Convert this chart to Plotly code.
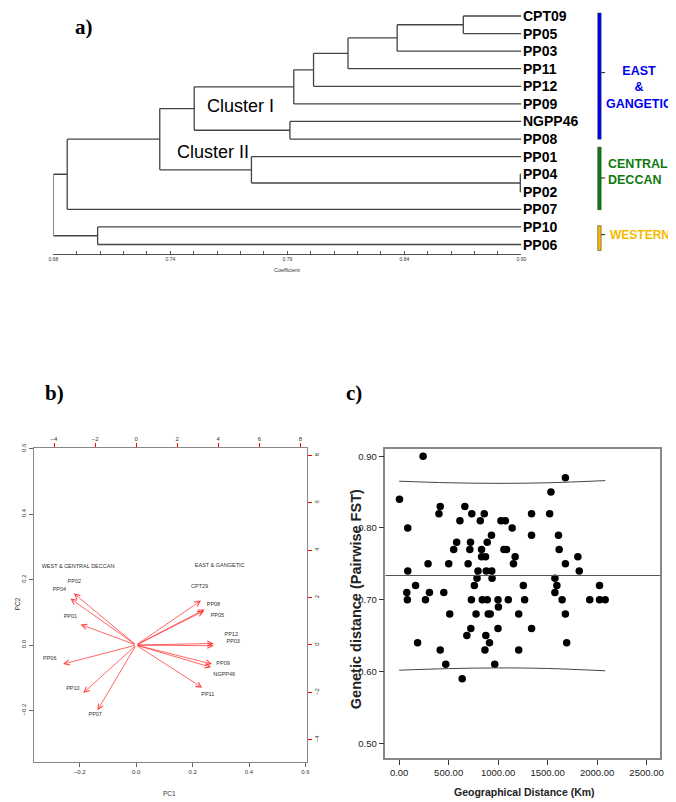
import plotly.graph_objects as go

W, H = 676, 802
OFF = 8  # page body margin of the host page
SANS = "Liberation Sans, Arial, sans-serif"
SERIF = "Liberation Serif, Times New Roman, serif"

# ---------------- Panel a: UPGMA dendrogram ----------------
leaf_labels = ["CPT09", "PP05", "PP03", "PP11", "PP12", "PP09", "NGPP46",
               "PP08", "PP01", "PP04", "PP02", "PP07", "PP10", "PP06"]
leaf_coef = 0.90
merge_left = [0, "m0", "m1", "m2", "m3", 6, "m4", 9, 8, "m6", "m9", 12, "m10"]
merge_right = [1, 2, 3, 4, 5, 7, "m5", 10, "m7", "m8", 11, 13, "m11"]
merge_coef = [0.8727, 0.8416, 0.8185, 0.8023, 0.7930, 0.7912, 0.7462,
              0.8995, 0.7731, 0.7300, 0.6865, 0.7008, 0.6800]
coef_tick_labels = ["0.68", "", "", "", "", "0.74", "", "", "", "", "0.79",
                    "", "", "", "", "0.84", "", "", "", "", "0.90"]
cluster_names = ["Cluster I", "Cluster II"]
group_names = ["EAST<br>&<br>GANGETIC", "CENTRAL<br>DECCAN", "WESTERN"]
group_colors = ["#0000F0", "#0F7A0F", "#F5BA00"]

# ---------------- Panel b: PCA biplot ----------------
pc_names = ["PP02", "PP04", "PP01", "PP06", "PP10", "PP07", "CPT29", "PP08",
            "PP05", "PP12", "PP03", "PP09", "NGPP46", "PP11"]
pc1 = [-0.221, -0.233, -0.197, -0.259, -0.187, -0.137, 0.230, 0.243,
       0.240, 0.275, 0.275, 0.269, 0.266, 0.234]
pc2 = [0.158, 0.142, 0.063, -0.058, -0.146, -0.199, 0.136, 0.109,
       0.104, 0.005, -0.002, -0.058, -0.068, -0.130]
pc_label_x = [-0.219, -0.272, -0.233, -0.306, -0.224, -0.145, 0.225, 0.274,
              0.288, 0.337, 0.344, 0.308, 0.312, 0.254]
pc_label_y = [0.195, 0.169, 0.088, -0.040, -0.134, -0.212, 0.177, 0.123,
              0.091, 0.033, 0.010, -0.058, -0.089, -0.151]
pc_group_names = ["WEST & CENTRAL DECCAN", "EAST & GANGETIC"]
pc_group_x = [-0.206, 0.296]
pc_group_y = [0.240, 0.242]
pc_ticks = [-0.2, 0.0, 0.2, 0.4, 0.6]
pc_tick_text = ["\u22120.2", "0.0", "0.2", "0.4", "0.6"]
score_ticks = [-4, -2, 0, 2, 4, 6, 8]
score_tick_text = ["\u22124", "\u22122", "0", "2", "4", "6", "8"]

# ---------------- Panel c: isolation by distance scatter ----------------
geo_km = [242, 3, 87, 87, 77, 83, 166, 186, 266, 292, 306, 415, 402, 415, 451,
          471, 501, 511, 551, 581, 614, 637, 664, 684, 697, 714, 721, 724, 730,
          734, 760, 777, 787, 797, 820, 833, 833, 840, 860, 873, 880, 890, 890,
          867, 876, 900, 920, 913, 933, 936, 939, 966, 999, 1003, 999, 1029,
          1073, 1059, 1086, 1103, 1142, 1155, 1172, 1208, 1208, 1255, 1268,
          1338, 1338, 1338, 1521, 1534, 1610, 1617, 1680, 1680, 1574, 1594,
          1574, 1647, 1680, 1693, 1806, 1820, 1926, 2025, 2025, 2082]
fst = [0.90, 0.84, 0.80, 0.74, 0.71, 0.70, 0.72, 0.64, 0.70, 0.75, 0.71, 0.83,
       0.82, 0.63, 0.71, 0.61, 0.75, 0.68, 0.77, 0.78, 0.81, 0.59, 0.83, 0.65,
       0.75, 0.77, 0.78, 0.66, 0.70, 0.82, 0.72, 0.68, 0.73, 0.74, 0.81, 0.77,
       0.76, 0.70, 0.82, 0.76, 0.74, 0.78, 0.70, 0.63, 0.65, 0.68, 0.68, 0.64,
       0.79, 0.74, 0.73, 0.61, 0.70, 0.69, 0.66, 0.81, 0.81, 0.77, 0.77, 0.70,
       0.80, 0.75, 0.76, 0.68, 0.63, 0.72, 0.70, 0.66, 0.82, 0.79, 0.82, 0.85,
       0.79, 0.77, 0.75, 0.87, 0.73, 0.72, 0.71, 0.70, 0.68, 0.64, 0.76, 0.74,
       0.70, 0.72, 0.70, 0.70]
fit_mean = 0.7338
band_x = [0, 500, 1000, 1500, 2082]
band_upper = [0.8652, 0.8630, 0.8622, 0.8630, 0.8660]
band_lower = [0.6018, 0.6040, 0.6050, 0.6042, 0.6010]
geo_ticks = [0, 500, 1000, 1500, 2000, 2500]
geo_tick_text = ["0.00", "500.00", "1000.00", "1500.00", "2000.00", "2500.00"]
fst_ticks = [0.5, 0.6, 0.7, 0.8, 0.9]
fst_tick_text = ["0.50", "0.60", "0.70", "0.80", "0.90"]


def px_x(p):
    return (p - OFF) / W


def px_y(p):
    return 1 - (p - OFF) / H


# leaf index <-> pixel (panel a)
LEAF0_PX, LEAF_STEP = 11.0, 17.69


def leaf_idx(p):
    return (p - LEAF0_PX) / LEAF_STEP


def label(x, y, text, font, xref="paper", yref="paper", xanchor="center",
          yanchor="middle", **kw):
    d = dict(x=x, y=y, xref=xref, yref=yref, text=text, showarrow=False,
             xanchor=xanchor, yanchor=yanchor, font=font)
    d.update(kw)
    return d


fig = go.Figure()

# ---- dendrogram lines
node = {i: (leaf_coef, float(i)) for i in range(len(leaf_labels))}
lx, ly = [], []
for k, (a, b, h) in enumerate(zip(merge_left, merge_right, merge_coef)):
    ca = node[a]
    cb = node[b]
    for c in (ca, cb):
        lx += [c[0], h, None]
        ly += [c[1], c[1], None]
    lx += [h, h, None]
    ly += [ca[1], cb[1], None]
    node["m%d" % k] = (h, (ca[1] + cb[1]) / 2)
fig.add_trace(go.Scatter(x=lx, y=ly, mode="lines", xaxis="x", yaxis="y",
                         line=dict(color="#444444", width=1.3), cliponaxis=False,
                         hoverinfo="skip", showlegend=False))

annotations = []
for i, name in enumerate(leaf_labels):
    annotations.append(label(leaf_coef, i, "<b>%s</b>" % name,
                             dict(family=SANS, size=14, color="black"),
                             xref="x", yref="y", xanchor="left"))
annotations.append(label(0.7513, leaf_idx(102), cluster_names[0],
                         dict(family=SANS, size=18, color="black"),
                         xref="x", yref="y", xanchor="left"))
annotations.append(label(0.7370, leaf_idx(148), cluster_names[1],
                         dict(family=SANS, size=18, color="black"),
                         xref="x", yref="y", xanchor="left"))

shapes = []
group_spans_px = [(8, 135), (143, 206), (222, 247)]
group_tick_px = [68, 174, 231]
for (y0, y1), col, ty in zip(group_spans_px, group_colors, group_tick_px):
    shapes.append(dict(type="rect", xref="paper", yref="paper", x0=px_x(601.5), x1=px_x(605),
                       y0=px_y(y1), y1=px_y(y0), fillcolor=col,
                       line=dict(color="#333", width=0.5)))
    shapes.append(dict(type="line", xref="paper", yref="paper", x0=px_x(605), x1=px_x(609),
                       y0=px_y(ty), y1=px_y(ty), line=dict(color="#222", width=1)))
annotations.append(label(px_x(643), px_y(83), "<b>%s</b>" % group_names[0],
                         dict(family=SANS, size=12.5, color=group_colors[0]), align="center"))
annotations.append(label(px_x(610), px_y(168.5), "<b>%s</b>" % group_names[1],
                         dict(family=SANS, size=12.5, color=group_colors[1]),
                         xanchor="left", align="left"))
annotations.append(label(px_x(612), px_y(231), "<b>%s</b>" % group_names[2],
                         dict(family=SANS, size=12, color=group_colors[2]),
                         xanchor="left", align="left"))
annotations.append(label(0.79, px_y(267), "Coefficient",
                         dict(family=SANS, size=5.5, color="#333"), xref="x"))

# ---- panel b
for i in range(len(pc_names)):
    annotations.append(dict(x=pc1[i], y=pc2[i], ax=0, ay=0, xref="x2", yref="y2",
                            axref="x2", ayref="y2", text="", showarrow=True,
                            arrowhead=5, arrowsize=1.3, arrowwidth=0.8, standoff=0,
                            arrowcolor="rgba(255,45,45,0.9)"))
fig.add_trace(go.Scatter(x=pc_label_x + pc_group_x, y=pc_label_y + pc_group_y,
                         text=pc_names + pc_group_names, mode="text",
                         xaxis="x2", yaxis="y2", textposition="middle center",
                         textfont=dict(family=SANS, size=5.5, color="#333"),
                         hoverinfo="skip", showlegend=False))
fig.add_trace(go.Scatter(x=[0], y=[0], xaxis="x3", yaxis="y3", mode="markers",
                         marker=dict(opacity=0), hoverinfo="skip", showlegend=False))
annotations.append(label(px_x(167), px_y(793), "PC1",
                         dict(family=SANS, size=6.5, color="#333")))
annotations.append(label(px_x(12), px_y(602), "PC2",
                         dict(family=SANS, size=6.5, color="#333"), textangle=-90))

# ---- panel c
fig.add_trace(go.Scatter(x=geo_km, y=fst, mode="markers", xaxis="x4", yaxis="y4",
                         marker=dict(color="black", size=7.5, line=dict(width=0)),
                         hoverinfo="skip", showlegend=False))
for band in (band_upper, band_lower):
    fig.add_trace(go.Scatter(x=band_x, y=band, mode="lines", xaxis="x4", yaxis="y4",
                             line=dict(color="#444", width=1, shape="spline"),
                             hoverinfo="skip", showlegend=False))
shapes.append(dict(type="line", xref="x4 domain", yref="y4", x0=0, x1=1,
                   y0=fit_mean, y1=fit_mean, line=dict(color="#555", width=1.2)))
annotations.append(label(px_x(527), px_y(792), "<b>Geographical Distance (Km)</b>",
                         dict(family=SANS, size=10.5, color="#222")))
annotations.append(label(px_x(356), px_y(598), "<b>Genetic distance (Pairwise FST)</b>",
                         dict(family=SANS, size=14.5, color="#222"), textangle=-90))

# panel letters
for lab, x, y in (("a)", 80, 22), ("b)", 50, 390), ("c)", 354, 390)):
    annotations.append(label(px_x(x), px_y(y), "<b>%s</b>" % lab,
                             dict(family=SERIF, size=21, color="black")))

small_b = dict(family=SANS, size=6, color="#333")
tick_c = dict(family=SANS, size=9.5, color="#222")
fig.update_layout(
    width=W, height=H, autosize=False,
    margin=dict(l=0, r=0, t=0, b=0),
    paper_bgcolor="white", plot_bgcolor="white",
    showlegend=False,
    xaxis=dict(domain=[px_x(49), px_x(524)], range=[0.68, 0.90], anchor="y",
               tickvals=[0.68 + 0.011 * i for i in range(21)], ticktext=coef_tick_labels,
               ticks="inside", ticklen=3, tickcolor="#555", tickwidth=1,
               showline=True, linecolor="#555", linewidth=1,
               showgrid=False, zeroline=False,
               tickfont=dict(family=SANS, size=5, color="#333")),
    yaxis=dict(domain=[px_y(251), px_y(OFF)], range=[leaf_idx(251), leaf_idx(OFF)],
               anchor="x", visible=False),
    xaxis2=dict(domain=[px_x(29), px_x(306)], range=[-0.363, 0.604], anchor="y2",
                tickvals=pc_ticks, ticktext=pc_tick_text, ticks="outside", ticklen=4,
                tickcolor="#666", showline=True, mirror=True, linecolor="#888",
                showgrid=False, zeroline=False, tickfont=small_b),
    yaxis2=dict(domain=[px_y(762), px_y(446)], range=[-0.358, 0.601], anchor="x2",
                tickvals=pc_ticks, ticktext=pc_tick_text, ticks="outside", ticklen=4,
                tickcolor="#666", showline=True, mirror=True, linecolor="#888",
                showgrid=False, zeroline=False, tickangle=-90, tickfont=small_b),
    xaxis3=dict(overlaying="x2", side="top", anchor="y2", range=[-4.99, 8.30],
                tickvals=score_ticks, ticktext=score_tick_text, ticks="outside",
                ticklen=4, tickcolor="red", showline=False, showgrid=False,
                zeroline=False, tickfont=small_b),
    yaxis3=dict(overlaying="y2", side="right", anchor="x2", range=[-4.95, 8.30],
                tickvals=score_ticks, ticktext=score_tick_text, ticks="outside",
                ticklen=4, tickcolor="red", showline=False, showgrid=False,
                zeroline=False, tickangle=-90, tickfont=small_b),
    xaxis4=dict(domain=[px_x(386), px_x(665)], range=[-139, 2639], anchor="y4",
                tickvals=geo_ticks, ticktext=geo_tick_text, ticks="outside", ticklen=5,
                tickcolor="#333", showline=True, mirror=True, linecolor="#888",
                linewidth=1.5, showgrid=False, zeroline=False, tickfont=tick_c),
    yaxis4=dict(domain=[px_y(758), px_y(447)], range=[0.479, 0.9097], anchor="x4",
                tickvals=fst_ticks, ticktext=fst_tick_text, ticks="outside", ticklen=5,
                tickcolor="#333", showline=True, mirror=True, linecolor="#888",
                linewidth=1.5, showgrid=False, zeroline=False, tickfont=tick_c),
    annotations=annotations,
    shapes=shapes,
)

fig.write_html("out.html")
